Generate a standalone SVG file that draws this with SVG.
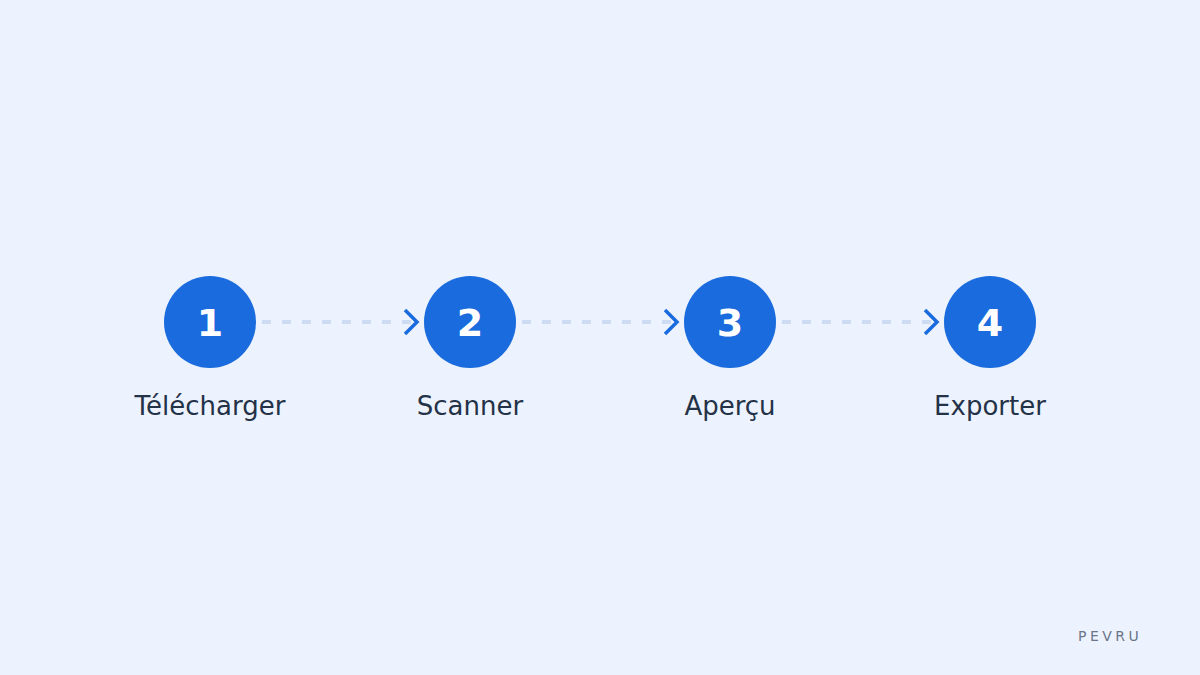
<svg xmlns="http://www.w3.org/2000/svg" width="1200" height="675" viewBox="0 0 1200 675">
<defs>
<style>
.bg{fill:#edf3fe}
.c{fill:#1a6bdd}
.n{font-family:"DejaVu Sans",sans-serif;font-weight:bold;font-size:38px;fill:#ffffff;text-anchor:middle}
.l{font-family:"DejaVu Sans",sans-serif;font-size:26px;fill:#243248;text-anchor:middle}
.d{stroke:#cddbf3;stroke-width:4;stroke-dasharray:9 11;fill:none}
.a{stroke:#1a6bdd;stroke-width:3.5;fill:none;stroke-linecap:butt}
.w{font-family:"DejaVu Sans",sans-serif;font-size:14px;fill:#6b7588;letter-spacing:3.5px}
</style>
</defs>
<rect class="bg" x="0" y="0" width="1200" height="675"/>
<g id="connectors">
<line class="d" x1="262" y1="322" x2="412" y2="322"/>
<polyline class="a" points="405,310 417,322 405,334"/>
<line class="d" x1="522" y1="322" x2="672" y2="322"/>
<polyline class="a" points="665,310 677,322 665,334"/>
<line class="d" x1="782" y1="322" x2="932" y2="322"/>
<polyline class="a" points="925,310 937,322 925,334"/>
</g>
<g id="step1">
<circle class="c" cx="210" cy="322" r="46"/>
<text class="n" x="210" y="336">1</text>
<text class="l" x="210" y="415">Télécharger</text>
</g>
<g id="step2">
<circle class="c" cx="470" cy="322" r="46"/>
<text class="n" x="470" y="336">2</text>
<text class="l" x="470" y="415">Scanner</text>
</g>
<g id="step3">
<circle class="c" cx="730" cy="322" r="46"/>
<text class="n" x="730" y="336">3</text>
<text class="l" x="730" y="415">Aperçu</text>
</g>
<g id="step4">
<circle class="c" cx="990" cy="322" r="46"/>
<text class="n" x="990" y="336">4</text>
<text class="l" x="990" y="415">Exporter</text>
</g>
<text class="w" x="1078" y="641">PEVRU</text>
</svg>
